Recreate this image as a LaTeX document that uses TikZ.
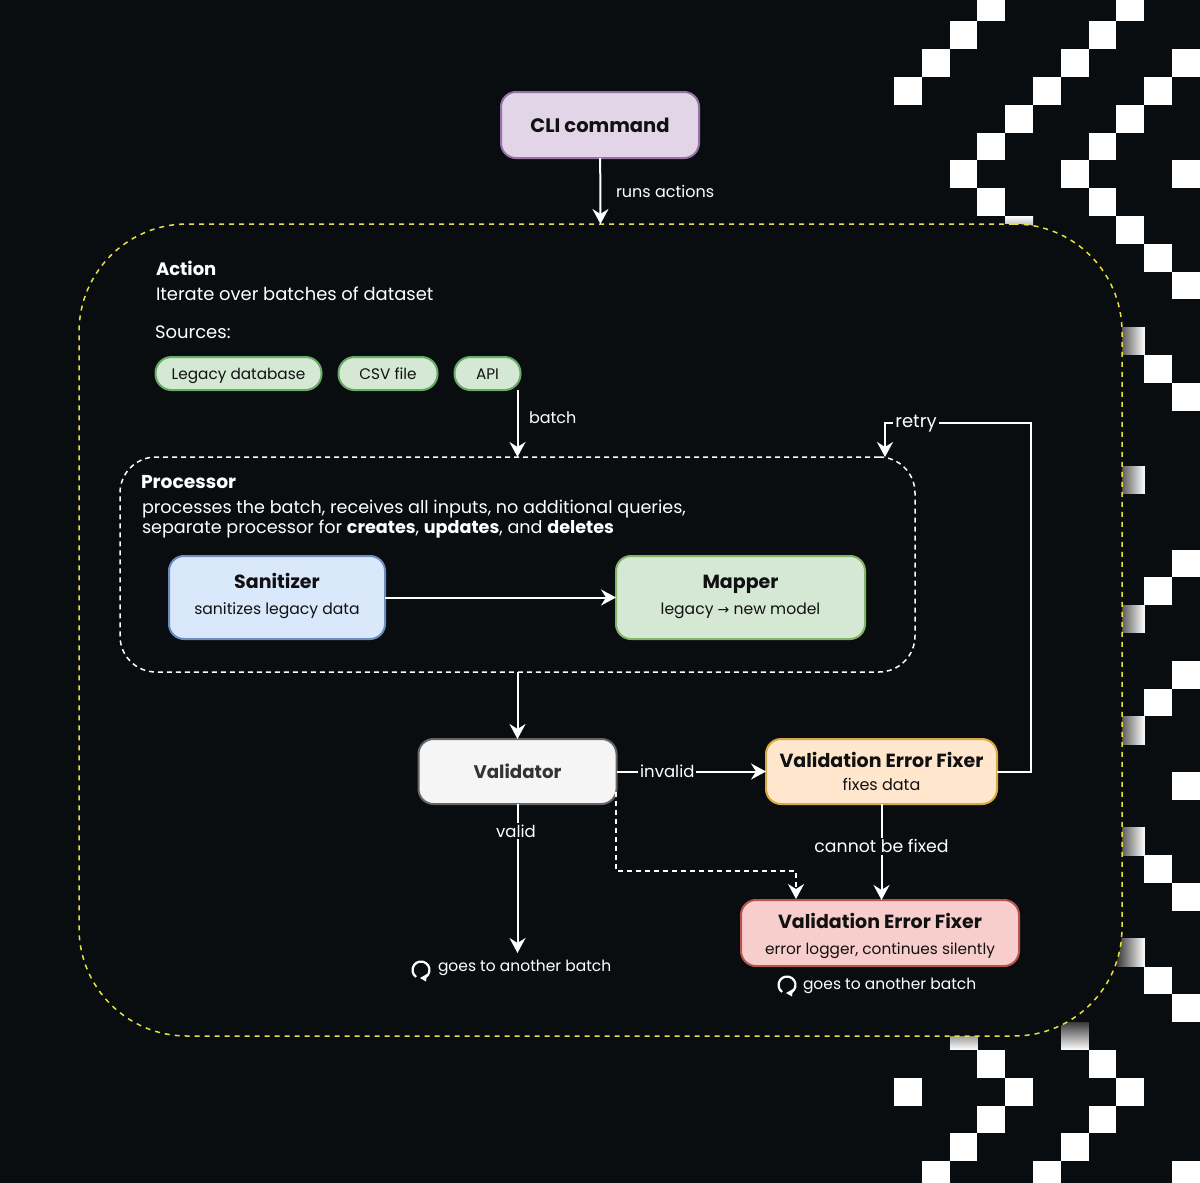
\documentclass[tikz,border=0pt]{standalone}
\usepackage{fontspec}
\setmainfont{Poppins}
\newfontfamily\arrowfont{DejaVu Sans}
\usetikzlibrary{arrows.meta}
\definecolor{bg}{HTML}{0A0D10}
\definecolor{ink}{HTML}{111111}
\definecolor{tilefade}{HTML}{3A3A3A}
\tikzset{>={Stealth[length=15pt,width=16pt,inset=5pt]}}
\tikzset{
  flow/.style={->, white, line width=2pt},
  textlabel/.style={white, inner sep=0pt, outer sep=0pt, anchor=west},
  edgelabel/.style={white, fill=bg, inner sep=2pt, font=\fontsize{16.5}{18}\selectfont},
  box/.style={draw, line width=2pt, rounded corners=15pt, inner sep=0pt, outer sep=0pt, align=center, text=ink},
  pill/.style={box, rounded corners=16pt, minimum height=33pt, text height=13pt, text depth=2pt, font=\fontsize{15.3}{17}\selectfont},
  tile/.style={fill=white}
}
\begin{document}
\begin{tikzpicture}[x=1pt,y=1pt]
\useasboundingbox (0,-1183) rectangle (1200,0);
\fill[bg] (0,-1183) rectangle (1200,0);
\foreach \i/\j in {3/0,8/0,2/1,7/1,1/2,6/2,10/2,0/3,5/3,9/3,4/4,8/4,3/5,7/5,2/6,6/6,10/6,3/7,7/7,8/8,9/9,10/10,9/13,10/14,10/20,9/21,10/24,9/25,10/28,9/31,10/32,9/35,10/36,3/38,7/38,0/39,4/39,8/39,3/40,7/40,2/41,6/41,1/42,5/42,10/42}
\fill[tile] ({894+27.8*\i},{6.5-27.8*\j}) rectangle +(27.8,-27.8);
\foreach \j in {12,17,22,26,30,34}
\shade[left color=tilefade, middle color=white!90!black, right color=white] (1117,{6.5-27.8*\j}) rectangle +(27.8,-27.8);
\shade[top color=white, bottom color=tilefade] (1005.2,-216) rectangle +(27.8,-27.8);
\shade[top color=tilefade, bottom color=white] (950,-1022) rectangle +(27.8,-27.8);
\shade[shading angle=135, top color=tilefade, bottom color=white] (1061,-1022) rectangle +(27.8,-27.8);
\node (action) [draw=yellow!80!white!90!black, dash pattern=on 5pt off 5pt, line width=1.5pt, fill=bg, rounded corners=108pt, minimum width=1043pt, minimum height=812pt, inner sep=0pt, outer sep=0pt] at (600.5,-630) {};
\node (cli) [box, draw={rgb,255:red,150;green,115;blue,166}, fill={rgb,255:red,225;green,213;blue,231}, minimum width=198pt, minimum height=66pt, text height=15pt, text depth=1pt, font=\fontsize{19.5}{22}\selectfont\bfseries] at (600,-125) {CLI command};
\node (runs) [textlabel, font=\fontsize{16}{18}\selectfont] at (616,-191) {runs actions};
\draw[flow] (cli) -- (action.north);
\node (actiontitle) [textlabel, font=\fontsize{18}{22}\selectfont\bfseries] at (156,-268) {Action};
\node (actiontext) [textlabel, font=\fontsize{17.9}{22}\selectfont] at (156,-294) {Iterate over batches of dataset};
\node (sources) [textlabel, font=\fontsize{18}{22}\selectfont] at (155,-332) {Sources:};
\node (legacy) [pill, draw=green!45!black!60!white, fill={rgb,255:red,213;green,232;blue,212}, minimum width=166pt] at (238.5,-373.5) {Legacy database};
\node (csv) [pill, draw=green!45!black!60!white, fill={rgb,255:red,213;green,232;blue,212}, minimum width=99pt] at (388,-373.5) {CSV file};
\node (api) [pill, draw=green!45!black!60!white, fill={rgb,255:red,213;green,232;blue,212}, minimum width=66pt] at (487.5,-373.5) {API};
\node (proc) [draw=white, dash pattern=on 5pt off 4pt, line width=1.5pt, rounded corners=36pt, minimum width=795pt, minimum height=215pt, inner sep=0pt, outer sep=0pt] at (517.5,-564.5) {};
\draw[flow] (api.south -| proc.north) -- (proc.north);
\node (batch) [textlabel, font=\fontsize{16}{18}\selectfont] at (529,-418) {batch};
\node (proctitle) [textlabel, font=\fontsize{18.7}{22}\selectfont\bfseries] at (141,-482) {Processor};
\node (proctext) [textlabel, align=left, font=\fontsize{17.6}{20}\selectfont, anchor=north west] at (142,-500) {processes the batch, receives all inputs, no additional queries,\\separate processor for \textbf{creates}, \textbf{updates}, and \textbf{deletes}};
\node (san) [box, draw={rgb,255:red,108;green,142;blue,191}, fill={rgb,255:red,218;green,232;blue,252}, minimum width=216pt, minimum height=83pt, text height=38pt, font=\fontsize{15.6}{26}\selectfont] at (277,-597.5) {{\fontsize{19}{26}\selectfont\bfseries Sanitizer}\\sanitizes legacy data};
\node (map) [box, draw={rgb,255:red,130;green,179;blue,102}, fill={rgb,255:red,213;green,232;blue,212}, minimum width=249pt, minimum height=83pt, text height=38pt, font=\fontsize{15.6}{26}\selectfont] at (740.5,-597.5) {{\fontsize{19}{26}\selectfont\bfseries Mapper}\\legacy {\arrowfont\fontsize{14}{26}\selectfont→} new model};
\draw[flow] (san) -- (map);
\node (val) [box, draw=black!60, fill=black!4, text=black!80, minimum width=198pt, minimum height=65pt, font=\fontsize{18.2}{22}\selectfont\bfseries] at (517.5,-771.5) {Validator};
\draw[flow] (proc.south) -- (val.north);
\node (fixer) [box, draw={rgb,255:red,214;green,168;blue,70}, fill={rgb,255:red,255;green,230;blue,204}, minimum width=231pt, minimum height=65pt, font=\fontsize{16}{23}\selectfont] at (881.5,-771.5) {{\fontsize{19}{23}\selectfont\bfseries Validation Error Fixer}\\fixes data};
\node (logger) [box, draw={rgb,255:red,184;green,84;blue,80}, fill={rgb,255:red,248;green,206;blue,204}, minimum width=278pt, minimum height=66pt, text height=47pt, font=\fontsize{15.35}{26}\selectfont] at (880,-933) {{\fontsize{19}{26}\selectfont\bfseries Validation Error Fixer}\\error logger, continues silently};
\draw[flow] (val) -- (fixer) node [edgelabel, pos=0.34] (invalid) {invalid};
\draw[flow] (fixer.south) -- (fixer.south |- logger.north) node [edgelabel, pos=0.44, font=\fontsize{17.3}{18}\selectfont] (nofix) {cannot be fixed};
\coordinate (retrycorner) at (1031,-423);
\coordinate (retryend) at (885,-457);
\draw[flow] (fixer.east) -| (retrycorner) -| (retryend);
\node (retry) [edgelabel, font=\fontsize{18}{18}\selectfont] at (916,-424) {retry};
\coordinate (dashstart) at (616,-792);
\coordinate (dashbend) at (616,-871);
\coordinate (dashend) at (796,-899);
\draw[flow, dash pattern=on 5pt off 4pt] (dashstart) -- (dashbend) -| (dashend);
\coordinate (validend) at (517.5,-953);
\draw[flow] (val.south) -- (validend);
\node (valid) [edgelabel] at (516,-831) {valid};
\node (again) [textlabel, font=\fontsize{15.5}{18}\selectfont] at (438,-968) {goes to another batch};
\node (againb) [textlabel, font=\fontsize{15.5}{18}\selectfont] at (803,-986) {goes to another batch};
\coordinate (loopa) at (421,-970);
\coordinate (loopb) at (787,-985);
\foreach \c in {loopa,loopb} {
\draw[white, line width=2.2pt] ([shift={(235:8.5)}]\c) arc (235:-70:8.5);
\fill[white] ([shift={(-1,-8)}]\c) -- ([shift={(6,-4)}]\c) -- ([shift={(5,-11.5)}]\c) -- cycle;
}
\end{tikzpicture}
\end{document}
